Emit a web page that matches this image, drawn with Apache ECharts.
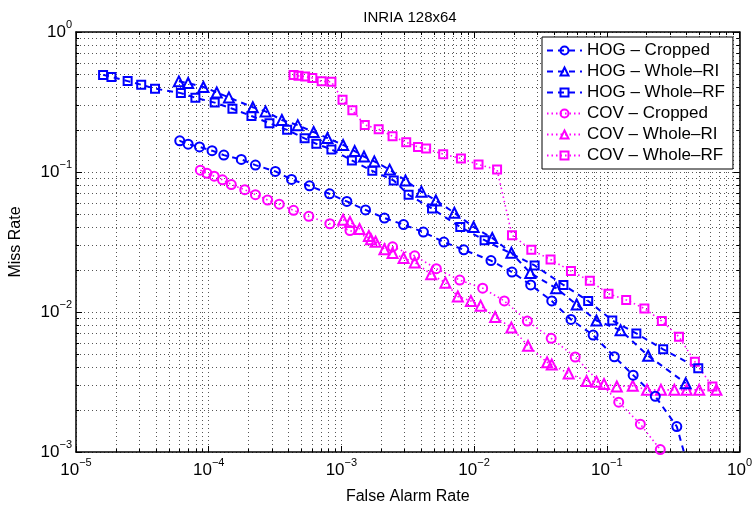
<!DOCTYPE html>
<html>
<head>
<meta charset="utf-8">
<script src="https://cdn.jsdelivr.net/npm/echarts@6/dist/echarts.min.js"></script>
<style>html,body{margin:0;padding:0;background:#fff}#c{width:755px;height:510px}</style>
</head>
<body>
<div id="c"></div>
<script>
const seriesNames = ['HOG – Cropped', 'HOG – Whole–RI', 'HOG – Whole–RF', 'COV – Cropped', 'COV – Whole–RI', 'COV – Whole–RF'];

const hogCroppedFA = [6.05e-5, 7.0e-5, 8.53e-5, 1.06e-4, 1.30e-4, 1.76e-4, 2.25e-4, 3.18e-4, 4.21e-4, 5.75e-4, 8.15e-4, 1.10e-3, 1.52e-3, 2.11e-3, 2.94e-3, 4.15e-3, 5.92e-3, 8.36e-3, 1.34e-2, 1.93e-2, 2.67e-2, 3.85e-2, 5.37e-2, 7.89e-2, 0.114, 0.158, 0.232, 0.337, 0.40];
const hogCroppedMR = [0.167, 0.158, 0.151, 0.142, 0.132, 0.123, 0.112, 0.101, 0.0885, 0.0796, 0.0698, 0.0616, 0.0536, 0.0469, 0.0421, 0.0372, 0.0316, 0.0278, 0.0233, 0.0193, 0.0156, 0.0120, 0.00885, 0.00684, 0.00479, 0.00354, 0.00250, 0.00152, 0.00085];

const hogRIFA = [5.96e-5, 7.0e-5, 9.12e-5, 1.15e-4, 1.42e-4, 2.15e-4, 2.68e-4, 3.56e-4, 4.69e-4, 6.18e-4, 7.85e-4, 1.03e-3, 1.26e-3, 1.48e-3, 1.77e-3, 2.31e-3, 3.04e-3, 4.01e-3, 5.15e-3, 7.10e-3, 9.91e-3, 1.37e-2, 1.91e-2, 2.65e-2, 4.15e-2, 5.93e-2, 8.36e-2, 0.127, 0.205, 0.393];
const hogRIMR = [0.444, 0.432, 0.405, 0.370, 0.341, 0.290, 0.271, 0.235, 0.216, 0.193, 0.175, 0.156, 0.141, 0.129, 0.119, 0.104, 0.0870, 0.0724, 0.0626, 0.0511, 0.0405, 0.0338, 0.0265, 0.0190, 0.0148, 0.0113, 0.00870, 0.00741, 0.00487, 0.00310];

const hogRFFA = [1.60e-5, 1.85e-5, 2.45e-5, 3.10e-5, 3.94e-5, 6.17e-5, 7.94e-5, 1.11e-4, 1.51e-4, 2.10e-4, 2.87e-4, 3.90e-4, 5.28e-4, 6.47e-4, 8.41e-4, 1.20e-3, 1.71e-3, 2.48e-3, 3.21e-3, 4.82e-3, 7.87e-3, 1.20e-2, 2.86e-2, 4.71e-2, 7.24e-2, 0.110, 0.167, 0.266, 0.489];
const hogRFMR = [0.494, 0.478, 0.446, 0.420, 0.394, 0.366, 0.339, 0.313, 0.283, 0.251, 0.223, 0.200, 0.174, 0.159, 0.145, 0.121, 0.102, 0.0870, 0.0687, 0.0548, 0.0405, 0.0326, 0.0215, 0.0156, 0.0120, 0.00870, 0.00703, 0.00541, 0.00397];

const covCroppedFA = [8.65e-5, 9.71e-5, 1.10e-4, 1.27e-4, 1.48e-4, 1.87e-4, 2.25e-4, 2.78e-4, 3.40e-4, 4.36e-4, 5.68e-4, 8.18e-4, 1.16e-3, 2.43e-3, 3.57e-3, 5.19e-3, 7.80e-3, 1.16e-2, 1.69e-2, 2.52e-2, 3.81e-2, 5.78e-2, 0.123, 0.179, 0.253];
const covCroppedMR = [0.103, 0.0979, 0.0933, 0.0879, 0.0813, 0.0747, 0.0689, 0.0631, 0.0589, 0.0532, 0.0482, 0.0427, 0.0382, 0.0292, 0.0252, 0.0204, 0.0169, 0.0148, 0.0120, 0.00861, 0.00649, 0.00477, 0.00227, 0.00158, 0.00104];

const covRIFA = [1.03e-3, 1.16e-3, 1.37e-3, 1.61e-3, 1.67e-3, 1.81e-3, 2.11e-3, 2.43e-3, 2.94e-3, 3.57e-3, 4.75e-3, 6.08e-3, 7.54e-3, 9.46e-3, 1.12e-2, 1.44e-2, 1.91e-2, 2.55e-2, 3.55e-2, 3.85e-2, 5.16e-2, 7.05e-2, 8.36e-2, 9.53e-2, 0.119, 0.157, 0.201, 0.256, 0.323, 0.400, 0.497, 0.670];
const covRIMR = [0.0456, 0.0439, 0.0392, 0.0349, 0.0331, 0.0318, 0.0281, 0.0264, 0.0243, 0.0226, 0.0186, 0.0162, 0.0129, 0.0120, 0.0111, 0.00921, 0.00774, 0.00573, 0.00437, 0.00421, 0.00364, 0.00321, 0.00318, 0.00306, 0.00294, 0.00297, 0.00278, 0.00278, 0.00278, 0.00278, 0.00278, 0.00278];

const covRFFA = [4.36e-4, 4.75e-4, 5.33e-4, 6.04e-4, 7.10e-4, 8.41e-4, 1.02e-3, 1.21e-3, 1.50e-3, 1.91e-3, 2.43e-3, 3.08e-3, 3.78e-3, 4.35e-3, 5.85e-3, 7.96e-3, 1.08e-2, 1.49e-2, 1.93e-2, 2.70e-2, 3.77e-2, 5.37e-2, 7.45e-2, 0.103, 0.140, 0.192, 0.260, 0.350, 0.461, 0.625];
const covRFMR = [0.492, 0.486, 0.481, 0.469, 0.444, 0.441, 0.328, 0.276, 0.217, 0.202, 0.180, 0.163, 0.151, 0.147, 0.134, 0.125, 0.113, 0.104, 0.0354, 0.0278, 0.0237, 0.0196, 0.0167, 0.0135, 0.0122, 0.0106, 0.00861, 0.00665, 0.00442, 0.00294];

const BLUE = '#0000ff', MAG = '#ff00ff';
const FONT = 'Liberation Sans, Arial, Helvetica, sans-serif';

function mk(name, fa, mr, color, dashed, symbol, size) {
  return {
    name: name, type: 'line',
    data: fa.map(function (x, i) { return [x, mr[i]]; }),
    symbol: symbol, symbolSize: size, showSymbol: true, showAllSymbol: true,
    clip: true, animation: false, silent: true,
    lineStyle: { color: color, width: dashed ? 2 : 1.6, type: dashed ? [6, 5] : [1.5, 3] },
    itemStyle: { color: 'rgba(255,255,255,0)', borderColor: color, borderWidth: 2 },
    emphasis: { disabled: true }
  };
}

function expLabel(v) {
  const e = Math.round(Math.log10(v));
  const s = e < 0 ? '\u2212' + (-e) : String(e);
  return '{b|10}{s|' + s + '}';
}
const labelRich = {
  b: { fontSize: 17, fontFamily: FONT, color: '#000', lineHeight: 26 },
  s: { fontSize: 11, fontFamily: FONT, color: '#000', verticalAlign: 'top' }
};
const gridLine = { show: true, lineStyle: { color: '#555', width: 1, type: [1, 3] } };

function mkAxis(isX, main) {
  const ax = {
    type: 'log', logBase: 10,
    min: isX ? 1e-5 : 1e-3, max: 1,
    position: isX ? (main ? 'bottom' : 'top') : (main ? 'left' : 'right'),
    axisLine: { show: true, onZero: false, lineStyle: { color: '#000', width: 1.5 } },
    axisTick: { show: true, inside: true, length: 6, lineStyle: { color: '#000', width: 1 } },
    minorTick: { show: true, splitNumber: 9, length: 3, lineStyle: { color: '#000', width: 1 } },
    axisLabel: main ? { show: true, formatter: expLabel, rich: labelRich, margin: isX ? 5 : 4 } : { show: false },
    splitLine: main ? gridLine : { show: false },
    minorSplitLine: main ? gridLine : { show: false },
    silent: true
  };
  if (main) {
    ax.name = isX ? 'False Alarm Rate' : 'Miss Rate';
    ax.nameLocation = 'middle';
    ax.nameGap = isX ? 37 : 52;
    ax.nameTextStyle = { fontSize: 16, fontFamily: FONT, color: '#000' };
  }
  return ax;
}

const chart = echarts.init(document.getElementById('c'), null, { renderer: 'canvas' });
chart.setOption({
  animation: false,
  backgroundColor: '#fff',
  title: {
    text: 'INRIA 128x64', left: 405, top: 5, textAlign: 'center',
    textStyle: { fontSize: 15, fontWeight: 'normal', fontFamily: FONT, color: '#000' }
  },
  grid: { left: 70.5, right: 15, top: 32, bottom: 50, containLabel: false },
  xAxis: [mkAxis(true, true), mkAxis(true, false)],
  yAxis: [mkAxis(false, true), mkAxis(false, false)],
  legend: {
    orient: 'vertical', left: 542, top: 37,
    padding: [5, 8, 5, 4], itemWidth: 35, itemHeight: 10, itemGap: 4,
    backgroundColor: '#fff', borderColor: '#000', borderWidth: 1, borderRadius: 0,
    selectedMode: false,
    textStyle: { fontSize: 17, fontFamily: FONT, color: '#000', lineHeight: 16 },
    data: seriesNames
  },
  series: [
    mk(seriesNames[3], covCroppedFA, covCroppedMR, MAG, false, 'circle', 9),
    mk(seriesNames[4], covRIFA, covRIMR, MAG, false, 'triangle', 10),
    mk(seriesNames[5], covRFFA, covRFMR, MAG, false, 'rect', 8),
    mk(seriesNames[0], hogCroppedFA, hogCroppedMR, BLUE, true, 'circle', 9),
    mk(seriesNames[1], hogRIFA, hogRIMR, BLUE, true, 'triangle', 10),
    mk(seriesNames[2], hogRFFA, hogRFMR, BLUE, true, 'rect', 8)
  ]
});
</script>
</body>
</html>
